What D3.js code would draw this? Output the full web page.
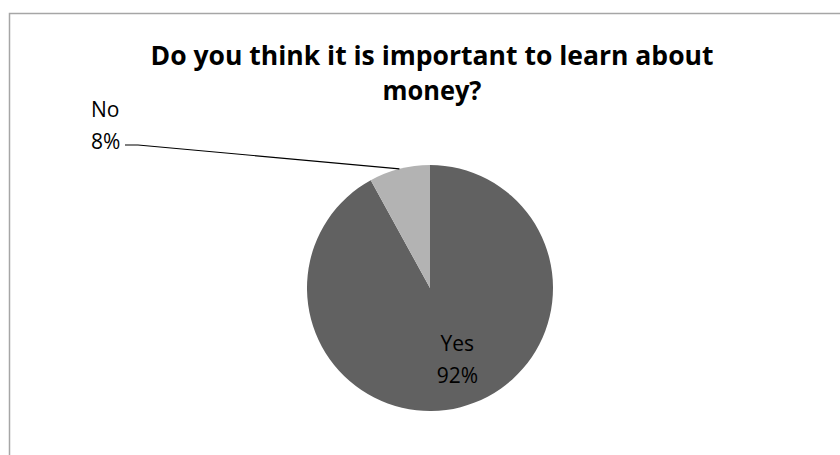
<!DOCTYPE html>
<html>
<head>
<meta charset="utf-8">
<script src="https://cdn.jsdelivr.net/npm/d3@7"></script>
<style>
    body { margin: 0; background: #fff; }
    svg { display: block; font-family: "Open Sans", "Noto Sans", sans-serif; }
</style>
</head>
<body>
<div id="chart"></div>
<script>
// Survey answers
const categories = ['Yes', 'No'];
const shares = [92, 8];
const titleLines = ['Do you think it is important to learn about', 'money?'];

const W = 840, H = 455;
const center = { x: 430, y: 288 };
const radius = 123;
const colors = d3.scaleOrdinal().domain(categories).range(['#616161', '#b3b3b3']);

const svg = d3.select('#chart').append('svg')
    .attr('width', W)
    .attr('height', H);

// Chart frame (runs off the right and bottom edges)
svg.append('rect')
    .attr('x', 9.5)
    .attr('y', 13.5)
    .attr('width', 900)
    .attr('height', 500)
    .attr('fill', 'none')
    .attr('stroke', '#a6a6a6')
    .attr('stroke-width', 1.5);

// Title: narrow the glyphs to the reference width (Calibri-like proportions)
const titleWidths = [563, 99];
titleLines.forEach((line, i) => {
    svg.append('text')
        .attr('x', 432)
        .attr('y', 65 + i * 35)
        .attr('text-anchor', 'middle')
        .attr('textLength', titleWidths[i])
        .attr('lengthAdjust', 'spacingAndGlyphs')
        .style('font-weight', '700')
        .style('font-size', '27px')
        .attr('fill', '#000')
        .text(line);
});

// Pie
const data = categories.map((c, i) => ({ name: c, value: shares[i] }));
const pie = d3.pie().value(d => d.value).sort(null);
const arcs = pie(data);
const arc = d3.arc().innerRadius(0).outerRadius(radius);

const g = svg.append('g')
    .attr('transform', `translate(${center.x},${center.y})`);

g.selectAll('path')
    .data(arcs)
    .enter()
    .append('path')
    .attr('d', arc)
    .attr('fill', d => colors(d.data.name));

// Inside label for Yes
const labelArc = d3.arc().innerRadius(radius * 0.6).outerRadius(radius * 0.6);
const yes = arcs[0];
const [yx, yy] = labelArc.centroid(yes);
const yesLabel = g.append('text')
    .attr('text-anchor', 'middle')
    .style('font-size', '21px')
    .attr('fill', '#000');
yesLabel.append('tspan').attr('x', yx + 9).attr('y', yy - 8).text(yes.data.name);
yesLabel.append('tspan').attr('x', yx + 9).attr('y', yy + 24).text(`${yes.data.value}%`);

// Outside label for No, with leader line
const no = arcs[1];
const rimArc = d3.arc().innerRadius(radius).outerRadius(radius);
const [nx, ny] = rimArc.centroid(no);
const labelX = 91 - center.x, labelY = 149 - center.y;

g.append('polyline')
    .attr('points', [[nx, ny], [labelX + 47, labelY - 4], [labelX + 34, labelY - 4]].map(p => p.join(',')).join(' '))
    .attr('fill', 'none')
    .attr('stroke', '#000')
    .attr('stroke-width', 1.2);

const noLabel = g.append('text')
    .attr('text-anchor', 'start')
    .style('font-size', '21px')
    .attr('fill', '#000');
noLabel.append('tspan').attr('x', labelX).attr('y', labelY - 32).text(no.data.name);
noLabel.append('tspan').attr('x', labelX).attr('y', labelY).text(`${no.data.value}%`);
</script>
</body>
</html>
